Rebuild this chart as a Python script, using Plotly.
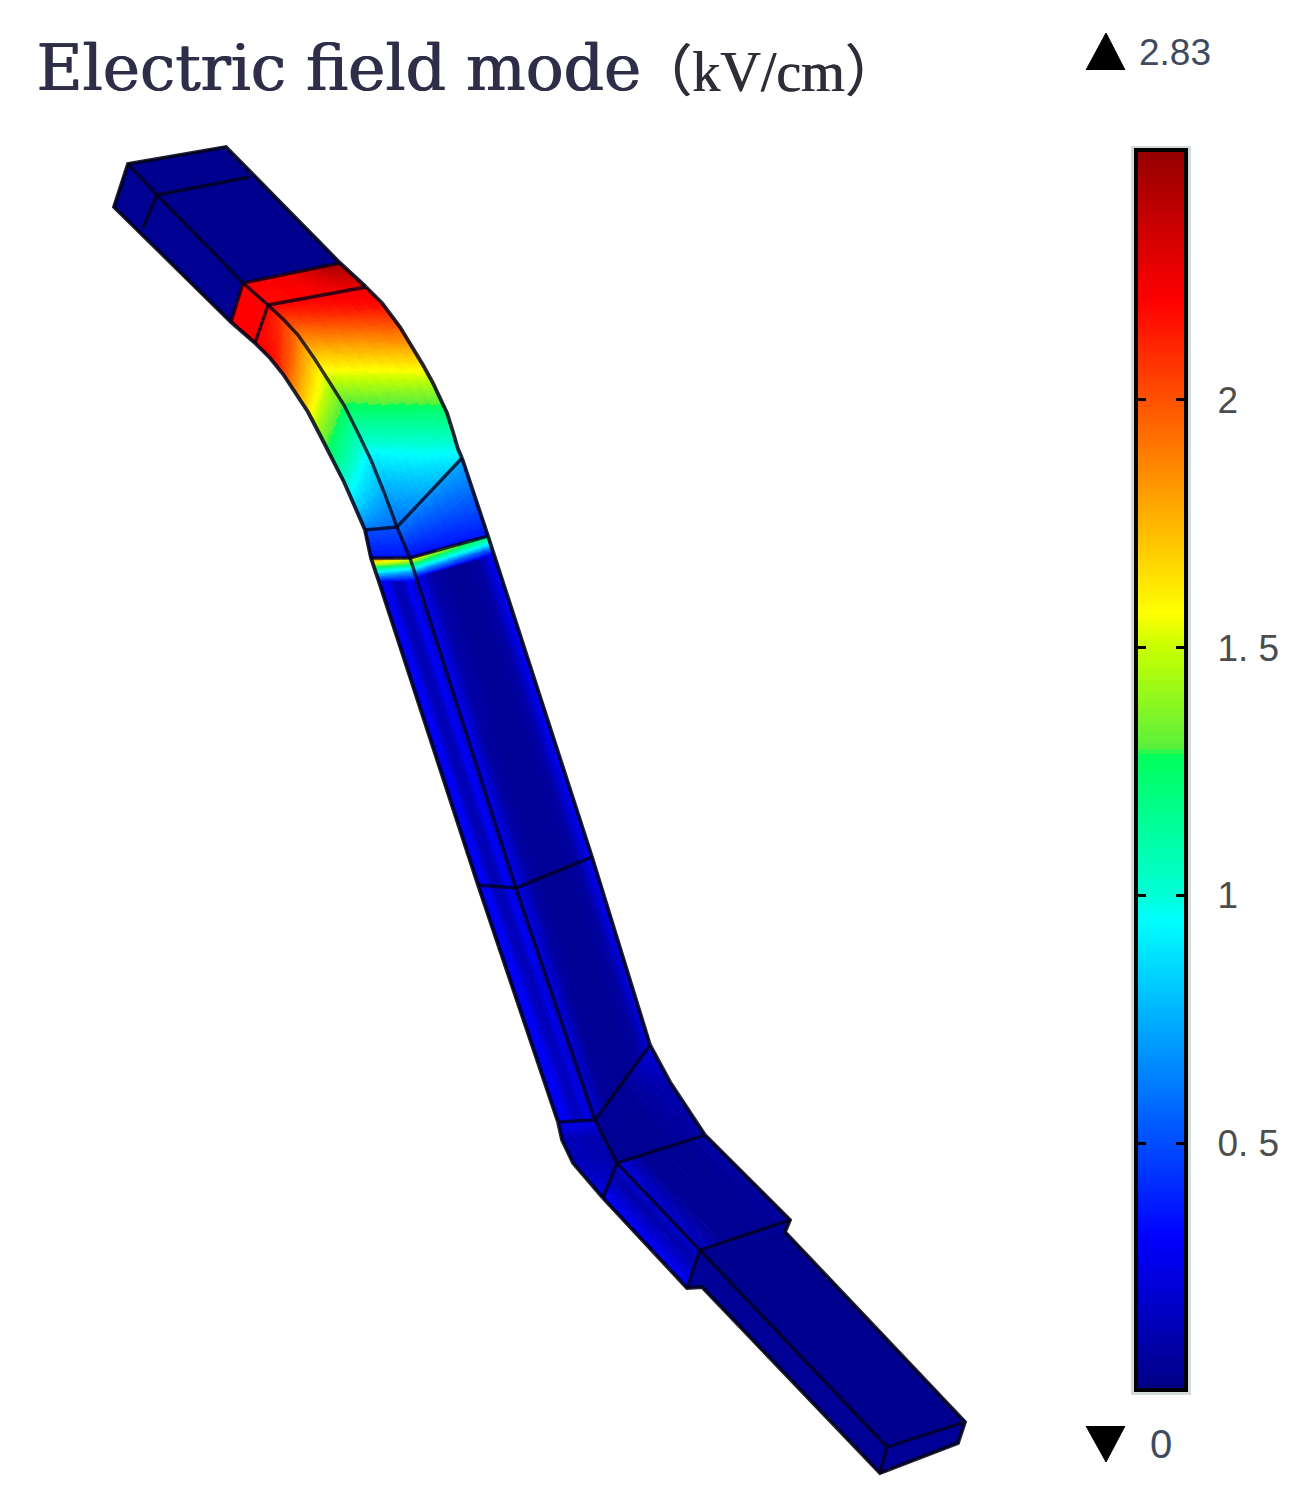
import math
import numpy as np
import plotly.graph_objects as go

# ---------- colour scale: (value, rgb) ----------
scale_values = [0.0, 0.31, 0.95, 1.0, 1.285, 1.295, 1.5, 1.57, 2.2, 2.5]
scale_colors = [(0, 0, 130), (0, 0, 255), (0, 255, 255), (0, 255, 215), (0, 255, 90),
                (90, 240, 60), (200, 255, 0), (255, 255, 0), (255, 0, 0), (150, 0, 0)]
bar_values = [round(i * 0.01, 2) for i in range(0, 251)]
tick_values = [0.5, 1, 1.5, 2]
tick_labels = ["0. 5", "1", "1. 5", "2"]
max_label = "2.83"
min_label = "0"
title_main = "Electric field mode"
title_unit = "（kV/cm）"
max_tri_x = [1086, 1106, 1125]
max_tri_y = [70, 33, 70]
min_tri_x = [1086, 1106, 1125]
min_tri_y = [1426, 1462, 1426]

# ---------- faces: left edge, right edge, field value on rows x columns ----------
# input arm
arm_top_l = [(128, 164), (243, 283)]
arm_top_r = [(226, 147), (340, 263)]
arm_top_v = [[0.03, 0.03], [0.03, 0.03]]
arm_side_l = [(114, 207), (231, 322)]
arm_side_r = [(128, 164), (243, 283)]
arm_side_v = [[0.04, 0.04], [0.04, 0.04]]
# red band
red_top_l = [(243, 283), (268, 305)]
red_top_r = [(340, 263), (366, 287)]
red_top_v = [[2.2, 2.25, 2.5], [2.17, 2.2, 2.25]]
red_side_l = [(231, 322), (255, 343)]
red_side_r = [(243, 283), (268, 305)]
red_side_v = [[2.2, 2.2], [2.2, 2.2]]
# upper bend
bend_seam = [(268, 305), (284, 320), (298, 335), (314, 358), (330, 383), (344, 405), (358, 433), (371, 460), (384, 492), (397, 527)]
bend_outer = [(366, 287), (382, 303), (400, 327), (412, 346), (423, 365), (433, 383), (447, 413), (453, 432), (458, 449), (462, 458)]
bend_left = [(255, 343), (270, 358), (283, 374), (296, 393), (308, 412), (320, 435), (333, 460), (344, 482), (355, 507), (365, 530)]
bend_top_v = [[2.2, 2.25], [2.05, 2.2], [1.9, 1.98], [1.68, 1.8], [1.46, 1.62], [1.28, 1.46], [1.08, 1.22], [0.9, 1.09], [0.74, 0.97], [0.58, 0.9]]
bend_side_v = [[2.2, 2.2], [2.2, 2.05], [2.05, 1.9], [1.82, 1.68], [1.62, 1.46], [1.38, 1.28], [1.2, 1.08], [1.03, 0.9], [0.85, 0.74], [0.62, 0.58]]
# wedge above the thin bright line
wedge_top_l = [(397, 527), (410, 558)]
wedge_top_r = [(462, 458), (488, 536)]
wedge_top_v = [[0.6, 0.75], [0.33, 0.36]]
wedge_side_l = [(365, 530), (371, 558)]
wedge_side_r = [(397, 527), (410, 558)]
wedge_side_v = [[0.52, 0.5], [0.36, 0.34]]
# thin bright line
strip_top_l = [(410, 558), (411, 563), (413, 568), (414, 572), (416, 578)]
strip_top_r = [(488, 536), (490, 541), (491, 545), (492, 549), (494, 555)]
strip_top_v = [[1.65, 1.22], [1.35, 1.05], [1.0, 0.85], [0.7, 0.55], [0.3, 0.28]]
strip_side_l = [(371, 558), (373, 563), (375, 568), (376, 572), (379, 582)]
strip_side_r = [(410, 558), (411, 563), (413, 568), (414, 572), (416, 582)]
strip_side_v = [[2.0, 1.65], [1.57, 1.35], [1.2, 1.0], [0.95, 0.7], [0.3, 0.28]]
# long straight run
run_top_l = [(416, 578), (516, 888)]
run_top_r = [(494, 555), (592, 857)]
run_top_v = [[0.3, 0.1, 0.06, 0.06, 0.08, 0.31], [0.28, 0.07, 0.04, 0.04, 0.07, 0.3]]
run_side_l = [(379, 582), (478, 885)]
run_side_r = [(416, 582), (516, 888)]
run_side_v = [[0.22, 0.31, 0.14, 0.12, 0.3, 0.16], [0.22, 0.31, 0.14, 0.12, 0.3, 0.16]]
# second straight run
low_top_l = [(516, 888), (595, 1120)]
low_top_r = [(592, 857), (650, 1045)]
low_top_v = [[0.28, 0.08, 0.04, 0.04, 0.07, 0.3], [0.2, 0.05, 0.04, 0.04, 0.06, 0.22]]
low_side_l = [(478, 885), (558, 1122)]
low_side_r = [(516, 888), (595, 1120)]
low_side_v = [[0.22, 0.31, 0.14, 0.12, 0.3, 0.16], [0.22, 0.31, 0.2, 0.14, 0.24, 0.12]]
# lower bend
low_bend_outer = [(650, 1045), (670, 1082), (705, 1135)]
low_bend_left = [(558, 1122), (562, 1140), (573, 1163), (603, 1198)]
low_bend_top_l = [(595, 1120), (617, 1163)]
low_bend_top_v = [[0.06, 0.05, 0.22], [0.05, 0.04, 0.12], [0.04, 0.04, 0.08]]
low_bend_side_r = [(595, 1120), (617, 1163)]
low_bend_side_v = [[0.27, 0.27], [0.14, 0.12], [0.14, 0.1], [0.24, 0.08]]
# stepped box
box_top_l = [(617, 1163), (700, 1250)]
box_top_r = [(705, 1135), (790, 1220)]
box_top_v = [[0.24, 0.06, 0.04, 0.05, 0.1], [0.16, 0.05, 0.04, 0.04, 0.06]]
box_side_l = [(603, 1198), (687, 1288)]
box_side_r = [(617, 1163), (700, 1250)]
box_side_v = [[0.31, 0.2, 0.1, 0.2], [0.31, 0.2, 0.1, 0.18]]
box_end_l = [(700, 1250), (700, 1250)]
box_end_r = [(790, 1220), (785, 1232)]
box_end_v = [[0.05, 0.05], [0.05, 0.05]]
box_foot_l = [(687, 1288), (702, 1287)]
box_foot_r = [(700, 1250), (700, 1250)]
box_foot_v = [[0.06, 0.06], [0.06, 0.06]]
# output arm
out_top_l = [(700, 1250), (887, 1447)]
out_top_r = [(785, 1232), (965, 1422)]
out_top_v = [[0.03, 0.03], [0.03, 0.03]]
out_side_l = [(702, 1287), (880, 1473)]
out_side_r = [(700, 1250), (887, 1447)]
out_side_v = [[0.05, 0.05], [0.05, 0.05]]
out_end_l = [(880, 1473), (887, 1447)]
out_end_r = [(958, 1443), (965, 1422)]
out_end_v = [[0.05, 0.05], [0.05, 0.05]]

faces = [
    (arm_top_l, arm_top_r, arm_top_v), (arm_side_l, arm_side_r, arm_side_v),
    (red_top_l, red_top_r, red_top_v), (red_side_l, red_side_r, red_side_v),
    (bend_seam, bend_outer, bend_top_v), (bend_left, bend_seam, bend_side_v),
    (wedge_top_l, wedge_top_r, wedge_top_v), (wedge_side_l, wedge_side_r, wedge_side_v),
    (strip_top_l, strip_top_r, strip_top_v), (strip_side_l, strip_side_r, strip_side_v),
    (run_top_l, run_top_r, run_top_v), (run_side_l, run_side_r, run_side_v),
    (low_top_l, low_top_r, low_top_v), (low_side_l, low_side_r, low_side_v),
    (low_bend_top_l, low_bend_outer, low_bend_top_v), (low_bend_left, low_bend_side_r, low_bend_side_v),
    (box_top_l, box_top_r, box_top_v), (box_side_l, box_side_r, box_side_v),
    (box_end_l, box_end_r, box_end_v), (box_foot_l, box_foot_r, box_foot_v),
    (out_top_l, out_top_r, out_top_v), (out_side_l, out_side_r, out_side_v), (out_end_l, out_end_r, out_end_v),
]

# ---------- edges drawn in black ----------
edge_straight = [
    [(366, 287), (340, 263), (226, 147), (128, 164), (114, 207), (231, 322), (255, 343)],
    [(462, 458), (488, 536), (592, 857), (650, 1045)],
    [(705, 1135), (790, 1220), (785, 1232), (965, 1422), (958, 1443), (880, 1473), (702, 1287), (687, 1288), (603, 1198)],
    [(558, 1122), (478, 885), (379, 582), (371, 558), (365, 530)],
]
edge_curved = [bend_outer, bend_left, low_bend_outer, low_bend_left]
edge_seam = [
    [(128, 164), (157, 195), (243, 283), (268, 305)],
    bend_seam,
    [(397, 527), (410, 558), (516, 888), (595, 1120), (617, 1163), (700, 1250), (887, 1447)],
    [(157, 195), (250, 177)], [(157, 195), (143, 228)],
    [(243, 283), (340, 263)], [(243, 283), (231, 322)],
    [(268, 305), (366, 287)], [(268, 305), (255, 343)],
    [(397, 527), (462, 458)], [(397, 527), (365, 530)],
    [(371, 558), (410, 558), (488, 536)],
    [(478, 885), (516, 888), (592, 857)],
    [(558, 1122), (595, 1120), (650, 1045)],
    [(617, 1163), (705, 1135)], [(617, 1163), (603, 1198)],
    [(700, 1250), (790, 1220)], [(700, 1250), (687, 1288)],
    [(887, 1447), (965, 1422)], [(887, 1447), (880, 1473)],
]


def color_of(v):
    r = [np.interp(v, scale_values, [c[k] for c in scale_colors]) for k in range(3)]
    return tuple(int(round(x)) for x in r)


def rows_from(edge, n):
    """Resample a polyline edge to n evenly spaced rows (by index)."""
    pts = np.array(edge, float)
    t = np.linspace(0, len(pts) - 1, n)
    return np.column_stack([np.interp(t, np.arange(len(pts)), pts[:, 0]),
                            np.interp(t, np.arange(len(pts)), pts[:, 1])])


bins = {}
for left, right, vals in faces:
    v = np.array(vals, float)
    nr, nc = v.shape
    L = rows_from(left, nr)
    R = rows_from(right, nr)
    for i in range(nr - 1):
        for j in range(nc - 1):
            q = np.array([v[i, j], v[i, j + 1], v[i + 1, j], v[i + 1, j + 1]])
            dr = max(abs(q[0] - q[2]), abs(q[1] - q[3]))
            dc = max(abs(q[0] - q[1]), abs(q[2] - q[3]))
            ni = max(1, math.ceil(dr / 0.025))
            nj = max(1, math.ceil(dc / 0.025))
            for a in range(ni):
                for b in range(nj):
                    s0, s1 = a / ni, (a + 1) / ni
                    t0, t1 = (j + b / nj) / (nc - 1), (j + (b + 1) / nj) / (nc - 1)
                    pl0 = L[i] + (L[i + 1] - L[i]) * s0
                    pl1 = L[i] + (L[i + 1] - L[i]) * s1
                    pr0 = R[i] + (R[i + 1] - R[i]) * s0
                    pr1 = R[i] + (R[i + 1] - R[i]) * s1
                    poly = [pl0 + (pr0 - pl0) * t0, pl0 + (pr0 - pl0) * t1,
                            pl1 + (pr1 - pl1) * t1, pl1 + (pr1 - pl1) * t0]
                    sm, tm = (s0 + s1) / 2, (b + 0.5) / nj
                    top = q[0] + (q[1] - q[0]) * tm
                    bot = q[2] + (q[3] - q[2]) * tm
                    val = top + (bot - top) * sm
                    key = color_of(val)
                    xs, ys = bins.setdefault(key, ([], []))
                    for p in poly + [poly[0]]:
                        xs.append(round(float(p[0]), 1))
                        ys.append(round(float(p[1]), 1))
                    xs.append(None)
                    ys.append(None)

fig = go.Figure()
for key, (xs, ys) in bins.items():
    col = "rgb(%d,%d,%d)" % key
    fig.add_trace(go.Scatter(x=xs, y=ys, mode="lines", fill="toself", fillcolor=col,
                             line=dict(color=col, width=1), hoverinfo="skip", showlegend=False))

for group, width, color in ((edge_straight, 3.8, "rgba(0,0,25,0.88)"), (edge_curved, 3.8, "rgba(0,0,25,0.85)"),
                            (edge_seam, 3.4, "rgba(0,0,25,0.78)")):
    for path in group:
        fig.add_trace(go.Scatter(x=[p[0] for p in path], y=[p[1] for p in path], mode="lines",
                                 line=dict(color=color, width=width), hoverinfo="skip", showlegend=False))

# max / min markers
for tx, ty in ((max_tri_x, max_tri_y), (min_tri_x, min_tri_y)):
    fig.add_trace(go.Scatter(x=tx, y=ty, mode="lines", fill="toself", fillcolor="#000000",
                             line=dict(color="#000000", width=1), hoverinfo="skip", showlegend=False))

# colour bar
cs = [[(v - scale_values[0]) / 2.5, "rgb(%d,%d,%d)" % c] for v, c in zip(scale_values, scale_colors)]
fig.add_trace(go.Heatmap(x=[0, 1], y=bar_values, z=[[v, v] for v in bar_values], zmin=0, zmax=2.5,
                         colorscale=cs, showscale=False, hoverinfo="skip", xaxis="x2", yaxis="y2"))

W, H = 1310, 1506
fig.update_layout(
    width=W, height=H, margin=dict(l=0, r=0, t=0, b=0), paper_bgcolor="white", plot_bgcolor="white",
    autosize=False, showlegend=False,
    xaxis=dict(domain=[0, 1], range=[0, W], visible=False, fixedrange=True),
    yaxis=dict(domain=[0, 1], range=[H, 0], visible=False, fixedrange=True),
    xaxis2=dict(domain=[1138 / W, 1184 / W], range=[0, 1], anchor="y2", showticklabels=False, ticks="",
                showgrid=False, zeroline=False, showline=True, linecolor="#000000", linewidth=4, mirror=True),
    yaxis2=dict(domain=[(H - 1388) / H, (H - 152) / H], range=[0.006, 2.5], anchor="x2", side="right",
                tickmode="array", tickvals=tick_values, ticktext=tick_labels, ticks="inside", ticklen=8, tickwidth=3,
                tickcolor="#000000", showgrid=False, zeroline=False, showline=True, linecolor="#000000",
                linewidth=4, mirror="ticks", ticklabelstandoff=22,
                tickfont=dict(family="Liberation Sans", size=37, color="#4d4d4d")),
    shapes=[dict(type="rect", xref="x", yref="y", x0=1131, x1=1191, y0=146, y1=1395, layer="below",
                 fillcolor="#d2dada", line=dict(width=0))],
    annotations=[
        dict(text=title_main, xref="x", yref="y", x=34, y=68, xanchor="left", yanchor="middle", showarrow=False,
             font=dict(family="DejaVu Serif", size=63, color="#2e2e48", shadow="1.2px 0 0 #2e2e48")),
        dict(text=title_unit, xref="x", yref="y", x=634, y=72, xanchor="left", yanchor="middle", showarrow=False,
             font=dict(family="Liberation Serif, Noto Sans CJK SC", size=56, color="#2e2e38", shadow="0.8px 0 0 #2e2e38")),
        dict(text=max_label, xref="x", yref="y", x=1137, y=52, xanchor="left", yanchor="middle", showarrow=False,
             font=dict(family="Liberation Sans", size=37, color="#3f4a60")),
        dict(text=min_label, xref="x", yref="y", x=1148, y=1444, xanchor="left", yanchor="middle", showarrow=False,
             font=dict(family="Liberation Sans", size=40, color="#3f4a60")),
    ],
)
fig.write_html("out.html", config=dict(displayModeBar=False, staticPlot=True),
               post_script="document.body.style.margin='0';document.documentElement.style.overflow='hidden';")
